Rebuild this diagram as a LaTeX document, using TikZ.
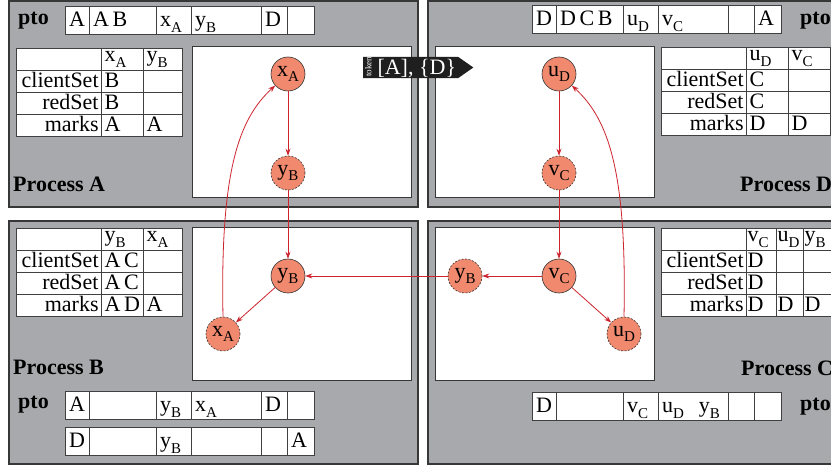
\documentclass[tikz,border=0pt]{standalone}
\usepackage{fontspec}
\setmainfont{Liberation Serif}
\usetikzlibrary{matrix,arrows.meta,shapes.symbols}

\definecolor{panelgray}{RGB}{167,169,172}
\definecolor{framegray}{RGB}{55,55,55}
\definecolor{opfill}{RGB}{240,137,110}
\definecolor{msgred}{RGB}{205,35,45}

% node label with a lowered roman index
\newcommand{\vlab}[2]{#1\raisebox{-.26em}{\fontsize{15}{15}\selectfont #2}}

\tikzset{
  panel/.style={fill=panelgray,draw=framegray,line width=1.2pt},
  graphbox/.style={fill=white,draw=framegray,line width=1pt},
  op/.style={circle,fill=opfill,draw=black!80,line width=.6pt,minimum size=34pt,inner sep=0pt},
  ghost/.style={op,dash pattern=on 2pt off 1.5pt},
  msg/.style={draw=msgred,line width=.8pt,-{Stealth[length=7pt,width=5pt]}},
  cell/.style={draw=black!75,fill=white,line width=.8pt,inner xsep=3pt,inner ysep=1pt,
    text height=16pt,text depth=4pt,align=left},
  statetab/.style={matrix of nodes,nodes in empty cells,nodes={cell},inner sep=0pt,
    column sep=-.8pt,row sep=-.8pt,anchor=north west,
    column 1/.style={nodes={text width=79pt,align=right}},
    row 1/.style={nodes={text height=12pt,text depth=8pt}}},
  ptorow/.style={matrix of nodes,nodes in empty cells,inner sep=0pt,anchor=north west,
    nodes={cell,text height=17pt,text depth=5pt,inner ysep=3pt,inner xsep=3.5pt},
    column sep=-.8pt,
    column 1/.style={nodes={text width=17pt}},
    column 2/.style={nodes={text width=60pt}},
    column 3/.style={nodes={text width=28pt}},
    column 4/.style={nodes={text width=63pt}},
    column 5/.style={nodes={text width=19pt}},
    column 6/.style={nodes={text width=20pt}}},
  title/.style={font=\fontsize{22}{22}\selectfont\bfseries,anchor=base west,inner sep=0pt},
  token/.style={signal,signal to=east,signal pointer angle=70,fill=black!88,text=white,
    inner xsep=2pt,inner ysep=0pt,minimum height=21pt,anchor=west}
}

\begin{document}
\begin{tikzpicture}[x=1pt,y=-1pt,font=\fontsize{22}{22}\selectfont]
  \useasboundingbox (0,0) rectangle (831,468);

  % the four processes
  \draw[panel] (9,1) rectangle (418,207);
  \draw[panel] (428,1) rectangle (840,207);
  \draw[panel] (9,221) rectangle (418,464);
  \draw[panel] (428,221) rectangle (840,464);

  \draw[graphbox] (192,47) rectangle (411,198);
  \draw[graphbox] (435,47) rectangle (654,198);
  \draw[graphbox] (192,228) rectangle (411,380);
  \draw[graphbox] (435,228) rectangle (654,380);

  \node[title] (lPtoA) at (18,25) {pto};
  \node[title] (lProcA) at (13,192) {Process A};
  \node[title] (lPtoD) at (800,25) {pto};
  \node[title] (lProcD) at (740,192) {Process D};
  \node[title] (lProcB) at (13,374) {Process B};
  \node[title] (lPtoB) at (18,408) {pto};
  \node[title] (lProcC) at (741,375) {Process C};
  \node[title] (lPtoC) at (800,410) {pto};

  % pto rows
  \matrix (ptoA) [ptorow] at (65,6) {
    A & A\,B & \vlab{x}{A} & \vlab{y}{B} & D & \\
  };
  \matrix (ptoD) [ptorow] at (532,5) {
    D & D\,C\,B & \vlab{u}{D} & \vlab{v}{C} & & A \\
  };
  \matrix (ptoBa) [ptorow] at (65,391) {
    A & & \vlab{y}{B} & \vlab{x}{A} & D & \\
  };
  \matrix (ptoBb) [ptorow] at (65,427) {
    D & & \vlab{y}{B} & & & A \\
  };
  \matrix (ptoC) [ptorow] at (532,392) {
    D & & \vlab{v}{C} & \vlab{u}{D}\hspace{15pt}\vlab{y}{B} & & \\
  };

  % state tables
  \matrix (tabA) [statetab,column 2/.style={nodes={text width=36pt}},
    column 3/.style={nodes={text width=33pt}}] at (16,48) {
    & \vlab{x}{A} & \vlab{y}{B} \\
    clientSet & B & \\
    redSet & B & \\
    marks & A & A \\
  };
  \matrix (tabD) [statetab,column 2/.style={nodes={text width=36pt}},
    column 3/.style={nodes={text width=36pt}}] at (661,47) {
    & \vlab{u}{D} & \vlab{v}{C} \\
    clientSet & C & \\
    redSet & C & \\
    marks & D & D \\
  };
  \matrix (tabB) [statetab,column 2/.style={nodes={text width=36pt}},
    column 3/.style={nodes={text width=33pt}}] at (16,228) {
    & \vlab{y}{B} & \vlab{x}{A} \\
    clientSet & A\,C & \\
    redSet & A\,C & \\
    marks & A\,D & A \\
  };
  \matrix (tabC) [statetab,column 2/.style={nodes={text width=28pt,inner xsep=1pt}},
    column 3/.style={nodes={text width=25pt,inner xsep=1pt}},
    column 4/.style={nodes={text width=26pt,inner xsep=1pt}}] at (661,228) {
    & \vlab{v}{C} & \vlab{u}{D} & \vlab{y}{B} \\
    clientSet & D & & \\
    redSet & D & & \\
    marks & D & D & D \\
  };

  % operations
  \node[op] (nxA) at (288,74) {\vlab{x}{A}};
  \node[ghost] (nyBa) at (288,173) {\vlab{y}{B}};
  \node[op] (nuD) at (559,74) {\vlab{u}{D}};
  \node[ghost] (nvCd) at (559,173) {\vlab{v}{C}};
  \node[op] (nyB) at (288,276) {\vlab{y}{B}};
  \node[ghost] (nxAb) at (223,334) {\vlab{x}{A}};
  \node[op] (nvC) at (559,276) {\vlab{v}{C}};
  \node[ghost] (nyBc) at (465,276) {\vlab{y}{B}};
  \node[ghost] (nuDc) at (624,334) {\vlab{u}{D}};

  \foreach \from/\to in {nxA/nyBa,nyBa/nyB,nyB/nxAb,nuD/nvCd,nvCd/nvC,nvC/nyBc,nyBc/nyB,nvC/nuDc}
    \draw[msg] (\from) -- (\to);
  \draw[msg] (nxAb.north) .. controls +(-3,-147) and +(-36,33) .. (nxA.222);
  \draw[msg] (nuDc.north) .. controls +(3,-147) and +(36,33) .. (nuD.318);

  \node[token] (tok) at (363,67.5) {\raisebox{-2pt}{\rotatebox{90}{\fontsize{9}{9}\selectfont token}}\hspace{6pt}[A], \{D\}\hspace{11pt}};
\end{tikzpicture}
\end{document}
